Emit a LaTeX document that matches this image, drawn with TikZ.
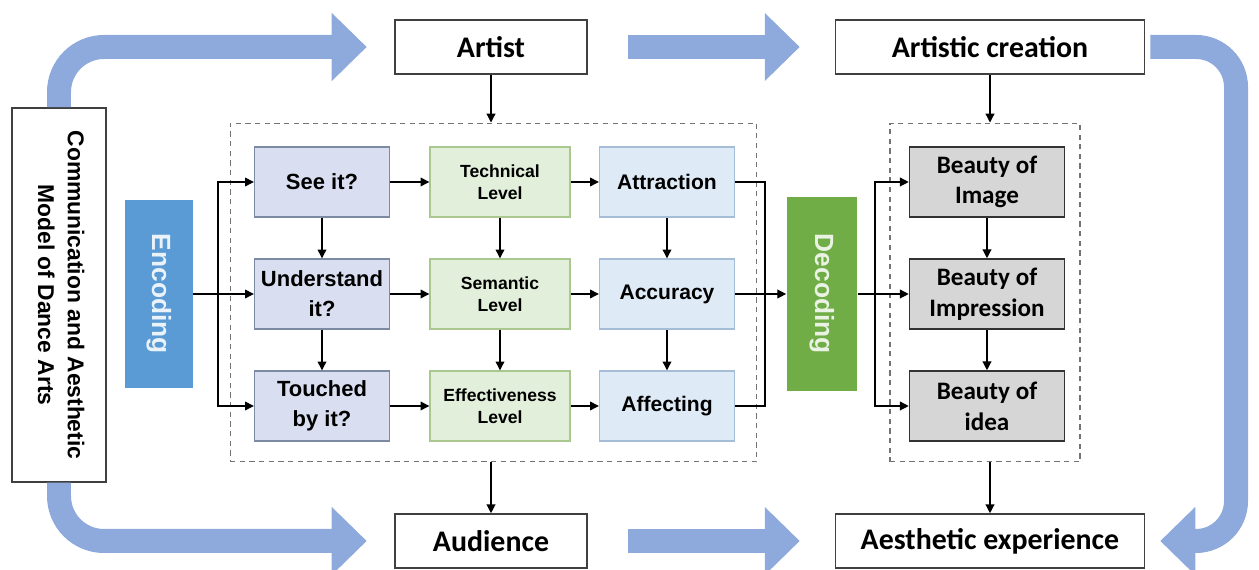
\documentclass[tikz,border=0pt]{standalone}
\usepackage{fontspec}
\setmainfont{Liberation Sans}
\newfontfamily\calibri{Carlito}
\usetikzlibrary{arrows.meta}

\definecolor{fatblue}{HTML}{8EA9DB}
\definecolor{seefill}{HTML}{D9DFF1}
\definecolor{seeline}{HTML}{7D8AA3}
\definecolor{levfill}{HTML}{E2EFDA}
\definecolor{levline}{HTML}{A9C78F}
\definecolor{resfill}{HTML}{DEEBF7}
\definecolor{resline}{HTML}{A6BDD7}
\definecolor{encfill}{HTML}{5B9BD5}
\definecolor{decfill}{HTML}{70AD47}
\definecolor{beautyfill}{HTML}{D6D6D6}

\begin{document}
\begin{tikzpicture}[x=0.02cm,y=-0.02cm]
  \tikzset{plain/.style = {draw=black!75,line width=0.9pt,fill=white,minimum height=1.08cm,inner sep=0pt,font=\calibri\bfseries\fontsize{17}{19}\selectfont}}
  \tikzset{seebox/.style = {draw=seeline,fill=seefill,line width=0.8pt,minimum width=2.7cm,minimum height=1.4cm,inner sep=0pt,align=center,font=\bfseries\fontsize{12.5}{17}\selectfont}}
  \tikzset{levbox/.style = {draw=levline,fill=levfill,line width=0.8pt,minimum width=2.8cm,minimum height=1.4cm,inner sep=0pt,align=center,font=\bfseries\fontsize{10}{12.5}\selectfont}}
  \tikzset{resbox/.style = {draw=resline,fill=resfill,line width=0.8pt,minimum width=2.7cm,minimum height=1.4cm,inner sep=0pt,align=center,font=\bfseries\fontsize{12}{17}\selectfont}}
  \tikzset{beautybox/.style = {draw=black!80,fill=beautyfill,line width=0.9pt,minimum width=3.1cm,minimum height=1.4cm,inner sep=0pt,align=center,font=\calibri\bfseries\fontsize{14.3}{17.5}\selectfont}}
  \tikzset{codebox/.style = {inner sep=0pt}}
  \tikzset{group/.style = {draw=black!55,dashed,dash pattern=on 3pt off 2.5pt,line width=0.6pt,inner sep=0pt}}
  \tikzset{edge/.style = {-{Triangle[length=5pt,width=5pt]},line width=0.7pt}}
  \tikzset{line/.style = {line width=0.7pt}}
  \tikzset{fat/.style = {draw=fatblue,line width=0.48cm,-{Triangle[length=0.7cm 0,width=1.32cm 0]}}}
  \useasboundingbox (0,0) rectangle (1259,570);

	\node[plain,minimum width=3.84cm] (artist) at (491,47) {Artist};
	\node[plain,minimum width=6.18cm] (creation) at (990,47) {Artistic creation};
	\node[plain,minimum width=3.84cm] (audience) at (491,541) {Audience};
	\node[plain,minimum width=6.18cm] (aesth) at (990,541) {Aesthetic experience};

	\node[draw=black!75,line width=0.9pt,minimum width=1.88cm,minimum height=7.48cm,inner sep=0pt] (comm) at (59,295)
	  {\rotatebox{-90}{\bfseries\fontsize{13}{17}\selectfont\begin{tabular}{@{}c@{}}Communication and Aesthetic\\Model of Dance Arts\end{tabular}}};
	\node[codebox,fill=encfill,text=white!88!encfill,minimum width=1.36cm,minimum height=3.76cm] (enc) at (159,294) {\rotatebox{-90}{\bfseries\fontsize{15}{17}\selectfont Encoding}};
	\node[codebox,fill=decfill,text=white!85!decfill,minimum width=1.42cm,minimum height=3.88cm] (dec) at (822,294) {\rotatebox{-90}{\bfseries\fontsize{15}{17}\selectfont Decoding}};

	\node[group,minimum width=10.54cm,minimum height=6.78cm] (box1) at (493.5,292.5) {};
	\node[group,minimum width=3.8cm,minimum height=6.78cm] (box2) at (985,292.5) {};

	\node[seebox] (see) at (322,182) {See it?};
	\node[seebox] (und) at (322,294) {Understand\\it?};
	\node[seebox] (tou) at (322,406) {Touched\\by it?};
	\node[levbox] (tech) at (500,182) {Technical\\Level};
	\node[levbox] (sem) at (500,294) {Semantic\\Level};
	\node[levbox] (eff) at (500,406) {Effectiveness\\Level};
	\node[resbox] (attr) at (667,182) {Attraction};
	\node[resbox] (acc) at (667,294) {Accuracy};
	\node[resbox] (aff) at (667,406) {Affecting};
	\node[beautybox] (bimg) at (987,182) {Beauty of\\Image};
	\node[beautybox] (bimp) at (987,294) {Beauty of\\Impression};
	\node[beautybox] (bidea) at (987,406) {Beauty of\\idea};

	\coordinate (ensplit) at (218,294);
	\coordinate (desplit) at (765,294);
	\coordinate (bsplit) at (875,294);

	% big arrows round the model
	\draw[fat,rounded corners=0.9cm] (comm.north) |- ([xshift=-0.55cm]artist.west);
	\draw[fat,rounded corners=0.9cm] (comm.south) |- ([xshift=-0.55cm]audience.west);
	\draw[fat] ([xshift=0.8cm]artist.east) -- ([xshift=-0.7cm]creation.west);
	\draw[fat] ([xshift=0.8cm]audience.east) -- ([xshift=-0.7cm]aesth.west);
	\draw[fat,rounded corners=0.8cm] ([xshift=0.1cm]creation.east) -- (1236,47) -- (1236,541) -- ([xshift=0.3cm]aesth.east);

	\draw[edge] (artist) -- (artist.south |- box1.north);
	\draw[edge] (creation) -- (creation.south |- box2.north);
	\draw[edge] (audience.north |- box1.south) -- (audience);
	\draw[edge] (aesth.north |- box2.south) -- (aesth);

	\draw[line] (enc) -- (ensplit);
	\foreach \to in {see,und,tou}
	\draw[edge] (ensplit) |- (\to);
	\foreach \from/\to in {see/tech,tech/attr,und/sem,sem/acc,tou/eff,eff/aff,see/und,und/tou,tech/sem,sem/eff,attr/acc,acc/aff,bimg/bimp,bimp/bidea}
	\draw[edge] (\from) -- (\to);
	\foreach \from in {attr,aff}
	\draw[line] (\from) -| (desplit);
	\draw[edge] (acc) -- (dec);
	\draw[line] (dec) -- (bsplit);
	\foreach \to in {bimg,bimp,bidea}
	\draw[edge] (bsplit) |- (\to);
\end{tikzpicture}
\end{document}
